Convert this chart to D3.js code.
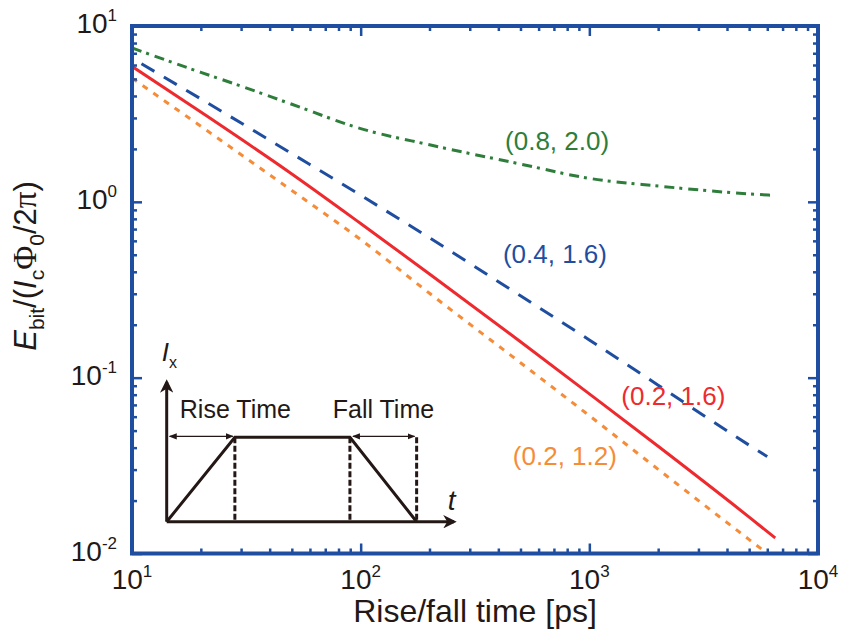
<!DOCTYPE html>
<html>
<head>
<meta charset="utf-8">
<script src="https://cdn.jsdelivr.net/npm/d3@7"></script>
<style>
  body { margin: 0; background: #fff; }
  text { font-family: "Liberation Sans", Arial, sans-serif; fill: #231815; }
  .narrow { font-family: "Liberation Sans Narrow", "Arial Narrow", "Liberation Sans", sans-serif; }
  .greek { font-family: "Liberation Serif", "Times New Roman", serif; }
</style>
</head>
<body>
<div id="chart"></div>
<script>
// Data
const redT = [10, 20, 50, 100, 200, 500, 1000, 2000, 5000, 6500]
const redE = [5.89, 3.24, 1.44, 0.753, 0.389, 0.160, 0.0809, 0.0407, 0.0161, 0.01225]

const orangeT = [10, 20, 50, 100, 200, 500, 1000, 2000, 5000, 6500]
const orangeE = [5.05, 2.69, 1.16, 0.61, 0.302, 0.1216, 0.0608, 0.0301, 0.012, 0.00925]

const blueT = [11, 20, 50, 100, 200, 500, 1000, 2000, 5000, 6000]
const blueE = [6.1, 3.85, 1.88, 1.09, 0.624, 0.292, 0.164, 0.0906, 0.0413, 0.0356]

const greenT = [10, 20, 30, 50, 100, 200, 500, 1000, 2000, 5000, 6300]
const greenE = [7.5, 5.45, 4.55, 3.59, 2.61, 2.11, 1.64, 1.36, 1.23, 1.11, 1.09]

const xMajor = [10, 100, 1000, 10000]
const yMajor = [0.01, 0.1, 1, 10]

// labels anchored in data space: [text, t, E, colour]
const curveLabels = [
  ["(0.8, 2.0)", 428, 1.97, "#2e7d3b"],
  ["(0.4, 1.6)", 419, 0.45, "#1f4ea0"],
  ["(0.2, 1.6)", 1380, 0.070, "#ee2a2f"],
  ["(0.2, 1.2)", 463, 0.0319, "#f68c38"]
]

// inset pulse, schematic units
const pulseT = [0, 2.34, 6.29, 8.58]
const pulseI = [0, 0.587, 0.587, 0]

//Initialize
const W = 841, H = 637
const frameBlue = "#1f4ea0"
const ink = "#231815"

const svg = d3.select("#chart").append("svg")
  .attr("width", W).attr("height", H)

const x = d3.scaleLog().domain([10, 10000]).range([132, 818])
const y = d3.scaleLog().domain([0.01, 10]).range([553.5, 26])

const minorOf = (majors) => {
  let out = []
  for (let i = 0; i < majors.length - 1; i++)
    for (let k = 2; k <= 9; k++) out.push(majors[i] * k)
  return out
}

svg.append("clipPath").attr("id", "plotclip")
  .append("rect")
  .attr("x", x(10)).attr("y", y(10))
  .attr("width", x(10000) - x(10)).attr("height", y(0.01) - y(10))

// Lines
const line = d3.line()
  .x(d => x(d[0])).y(d => y(d[1]))
  .curve(d3.curveMonotoneX)

const series = [
  { t: greenT, e: greenE, color: "#2e7d3b", dash: "10,5,3,6" },
  { t: blueT, e: blueE, color: "#1f4ea0", dash: "15,11" },
  { t: orangeT, e: orangeE, color: "#f68c38", dash: "6,7" },
  { t: redT, e: redE, color: "#ee2a2f", dash: null }
]

const lines = svg.append("g").attr("clip-path", "url(#plotclip)")
lines.selectAll("path")
  .data(series)
  .enter()
  .append("path")
  .attr("d", s => line(s.t.map((t, i) => [t, s.e[i]])))
  .attr("fill", "none")
  .attr("stroke", s => s.color)
  .attr("stroke-width", 3)
  .attr("stroke-dasharray", s => s.dash)

// Curve labels
svg.append("g")
  .selectAll("text")
  .data(curveLabels)
  .enter()
  .append("text")
  .attr("x", d => x(d[1]))
  .attr("y", d => y(d[2]))
  .attr("font-size", 26)
  .style("fill", d => d[3])
  .text(d => d[0])

// Axes: ticks point inward on all four sides
const tickAxis = (axisFn, scale, vals, len, tr) => {
  const g = svg.append("g")
    .attr("transform", tr)
    .call(axisFn(scale).tickValues(vals).tickSize(-len).tickFormat(""))
  g.select(".domain").remove()
  g.selectAll("line").attr("stroke", frameBlue).attr("stroke-width", 2.5)
  return g
}

const bottomY = y(0.01), topY = y(10), leftX = x(10), rightX = x(10000)

tickAxis(d3.axisBottom, x, xMajor, 10, `translate(0,${bottomY})`)
tickAxis(d3.axisBottom, x, minorOf(xMajor), 5, `translate(0,${bottomY})`)
tickAxis(d3.axisTop, x, xMajor, 10, `translate(0,${topY})`)
tickAxis(d3.axisTop, x, minorOf(xMajor), 5, `translate(0,${topY})`)
tickAxis(d3.axisLeft, y, yMajor, 10, `translate(${leftX},0)`)
tickAxis(d3.axisLeft, y, minorOf(yMajor), 5, `translate(${leftX},0)`)
tickAxis(d3.axisRight, y, yMajor, 10, `translate(${rightX},0)`)
tickAxis(d3.axisRight, y, minorOf(yMajor), 5, `translate(${rightX},0)`)

// Frame
svg.append("rect")
  .attr("x", leftX).attr("y", topY)
  .attr("width", rightX - leftX).attr("height", bottomY - topY)
  .attr("fill", "none")
  .attr("stroke", frameBlue)
  .attr("stroke-width", 4)

// Tick labels 10^n
const pow = v => Math.round(Math.log10(v))

const xl = svg.append("g")
  .selectAll("text")
  .data(xMajor)
  .enter()
  .append("text")
  .attr("class", "narrow")
  .attr("x", d => x(d))
  .attr("y", bottomY + 35)
  .attr("text-anchor", "middle")
  .attr("font-size", 28)
xl.append("tspan").text("10")
xl.append("tspan").attr("dy", -12).attr("font-size", 17).text(d => pow(d))

const yl = svg.append("g")
  .selectAll("text")
  .data(yMajor)
  .enter()
  .append("text")
  .attr("class", "narrow")
  .attr("x", leftX - 15)
  .attr("y", d => y(d) + 7)
  .attr("text-anchor", "end")
  .attr("font-size", 28)
yl.append("tspan").text("10")
yl.append("tspan").attr("dy", -12).attr("font-size", 17).text(d => pow(d))

// Axis titles
svg.append("text")
  .attr("x", (leftX + rightX) / 2)
  .attr("y", 622)
  .attr("text-anchor", "middle")
  .attr("font-size", 32)
  .text("Rise/fall time [ps]")

const yt = svg.append("text")
  .attr("transform", `translate(36,266) rotate(-90)`)
  .attr("text-anchor", "middle")
  .attr("font-size", 31)
yt.append("tspan").attr("font-style", "italic").text("E")
yt.append("tspan").attr("font-size", 21).attr("dy", 8).text("bit")
yt.append("tspan").attr("dy", -8).text("/(")
yt.append("tspan").attr("font-style", "italic").text("I")
yt.append("tspan").attr("font-size", 21).attr("dy", 8).text("c")
yt.append("tspan").attr("dy", -8).attr("class", "greek").attr("font-size", 33).text("Φ")
yt.append("tspan").attr("font-size", 21).attr("dy", 8).text("0")
yt.append("tspan").attr("dy", -8).text("/2")
yt.append("tspan").attr("class", "greek").attr("font-size", 33).text("π")
yt.append("tspan").text(")")

// Inset: pulse schematic
const ix = d3.scaleLinear().domain([0, 10]).range([166.7, 458])
const iy = d3.scaleLinear().domain([0, 1]).range([521.7, 378])

const defs = svg.append("defs")
defs.append("marker").attr("id", "bigArrow")
  .attr("viewBox", "0 0 10 10").attr("refX", 8).attr("refY", 5)
  .attr("markerWidth", 4.5).attr("markerHeight", 4.5)
  .attr("markerUnits", "strokeWidth").attr("orient", "auto")
  .append("path").attr("d", "M0,0 L10,5 L0,10 L3,5 Z").attr("fill", ink)
defs.append("marker").attr("id", "smallArrow")
  .attr("viewBox", "0 0 10 10").attr("refX", 9).attr("refY", 5)
  .attr("markerWidth", 6).attr("markerHeight", 6)
  .attr("markerUnits", "strokeWidth").attr("orient", "auto-start-reverse")
  .append("path").attr("d", "M0,1 L10,5 L0,9 Z").attr("fill", ink)

const inset = svg.append("g")

inset.append("line")
  .attr("x1", ix(0)).attr("y1", iy(0)).attr("x2", ix(10) - 4).attr("y2", iy(0))
  .attr("stroke", ink).attr("stroke-width", 3).attr("marker-end", "url(#bigArrow)")
inset.append("line")
  .attr("x1", ix(0)).attr("y1", iy(0)).attr("x2", ix(0)).attr("y2", iy(1) + 4)
  .attr("stroke", ink).attr("stroke-width", 3).attr("marker-end", "url(#bigArrow)")

inset.append("path")
  .attr("d", d3.line().x(d => ix(d[0])).y(d => iy(d[1]))(pulseT.map((t, i) => [t, pulseI[i]])))
  .attr("fill", "none").attr("stroke", ink).attr("stroke-width", 3)

inset.selectAll(".guide")
  .data(pulseT.slice(1))
  .enter()
  .append("line")
  .attr("x1", d => ix(d)).attr("x2", d => ix(d))
  .attr("y1", iy(pulseI[1])).attr("y2", iy(0))
  .attr("stroke", ink).attr("stroke-width", 3).attr("stroke-dasharray", "6,2.5")

const spans = [[pulseT[0], pulseT[1]], [pulseT[2], pulseT[3]]]
inset.selectAll(".span")
  .data(spans)
  .enter()
  .append("line")
  .attr("x1", d => ix(d[0]) + 3).attr("x2", d => ix(d[1]) - 2)
  .attr("y1", iy(pulseI[1]) - 1).attr("y2", iy(pulseI[1]) - 1)
  .attr("stroke", ink).attr("stroke-width", 1.3)
  .attr("marker-start", "url(#smallArrow)").attr("marker-end", "url(#smallArrow)")

inset.append("text").attr("x", ix(0.45)).attr("y", iy(0.72))
  .attr("font-size", 25).text("Rise Time")
inset.append("text").attr("x", ix(5.7)).attr("y", iy(0.72))
  .attr("font-size", 25).text("Fall Time")

const ilab = inset.append("text").attr("x", ix(0) - 5).attr("y", iy(1.12)).attr("font-size", 26)
ilab.append("tspan").attr("font-style", "italic").text("I")
ilab.append("tspan").attr("font-size", 16).attr("dy", 7).text("x")
inset.append("text").attr("x", ix(9.65)).attr("y", iy(0.08))
  .attr("font-size", 28).attr("font-style", "italic").text("t")
</script>
</body>
</html>
